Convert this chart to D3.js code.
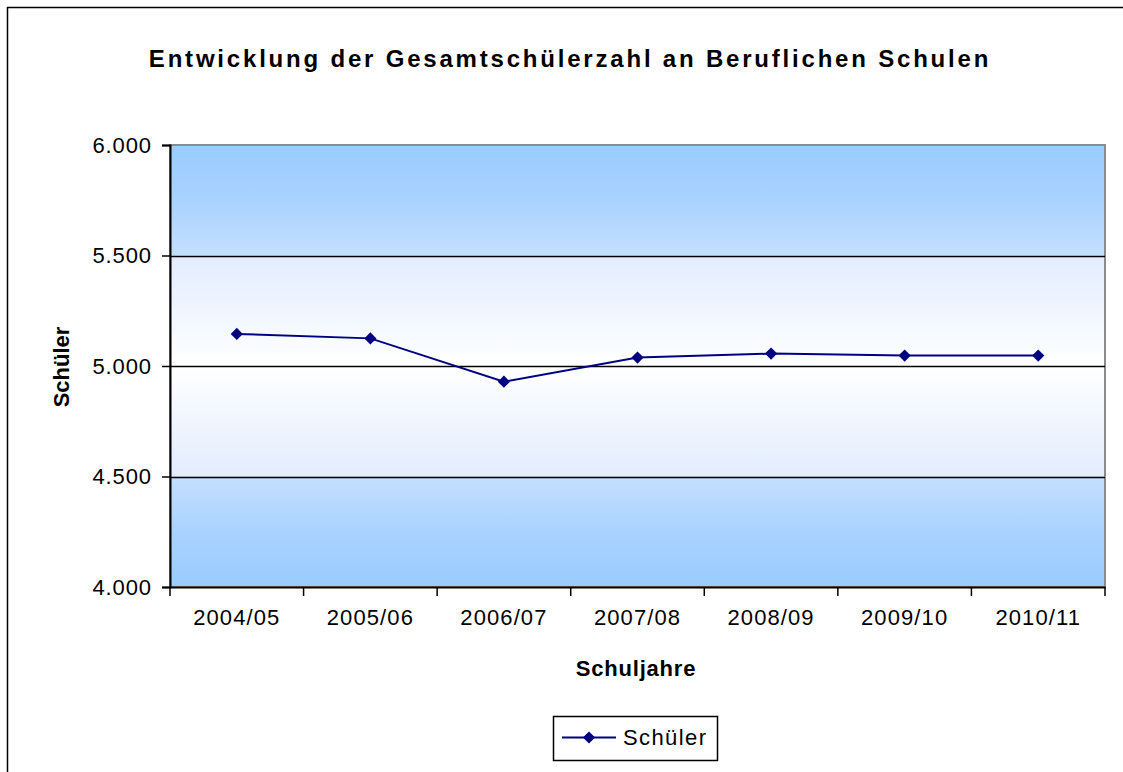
<!DOCTYPE html>
<html>
<head>
<meta charset="utf-8">
<script src="https://cdn.jsdelivr.net/npm/d3@7"></script>
<style>
  html, body { margin: 0; background: #fff; overflow: hidden; }
  svg { display: block; }
  text { font-family: "Liberation Sans", Arial, sans-serif; fill: #000; }
</style>
</head>
<body>
<div id="chart"></div>
<script>
// data
const years = ['2004/05', '2005/06', '2006/07', '2007/08', '2008/09', '2009/10', '2010/11'];
const schueler = [5145, 5125, 4929, 5038, 5056, 5047, 5047];
const yTicks = [4000, 4500, 5000, 5500, 6000];

const W = 1123, H = 772;
const plot = {left: 170, top: 145, right: 1105, bottom: 587};

let svg = d3.select('#chart')
  .append('svg')
    .attr('width', W)
    .attr('height', H);

// outer frame (right / bottom edges run off the picture)
svg.append('rect')
  .attr('x', 7.5).attr('y', 7.5)
  .attr('width', W + 20).attr('height', H + 20)
  .attr('fill', '#fff')
  .attr('stroke', '#000')
  .attr('stroke-width', 1.5);

// background gradient of the plot area
let grad = svg.append('defs').append('linearGradient')
  .attr('id', 'bg')
  .attr('x1', 0).attr('y1', 0).attr('x2', 0).attr('y2', 1);
[[0, '#99ccff'], [0.12, '#a8d2ff'], [0.249, '#c4dfff'], [0.251, '#e2edff'],
 [0.5, '#ffffff'], [0.749, '#e2edff'], [0.751, '#c4dfff'], [0.88, '#a8d2ff'], [1, '#99ccff']]
  .forEach(s => grad.append('stop').attr('offset', s[0]).attr('stop-color', s[1]));

let x = d3.scaleBand()
  .domain(years)
  .range([plot.left, plot.right]);

let y = d3.scaleLinear()
  .domain([4000, 6000])
  .range([plot.bottom, plot.top]);

svg.append('rect')
  .attr('x', plot.left).attr('y', plot.top)
  .attr('width', plot.right - plot.left)
  .attr('height', plot.bottom - plot.top)
  .attr('fill', 'url(#bg)')
  .attr('stroke', '#8c8c8c')
  .attr('stroke-width', 2);

// gridlines
svg.append('g')
  .selectAll('line')
  .data(yTicks.slice(1, -1))
  .enter()
  .append('line')
    .attr('x1', plot.left).attr('x2', plot.right)
    .attr('y1', d => Math.round(y(d)) + 0.5)
    .attr('y2', d => Math.round(y(d)) + 0.5)
    .attr('stroke', '#000')
    .attr('stroke-width', 1.5);

// y axis
let fmt = d => d3.format(',')(d).replace(',', '.');
let yAxis = svg.append('g')
  .attr('transform', `translate(${plot.left},0)`)
  .call(d3.axisLeft(y).tickValues(yTicks).tickSize(8).tickPadding(10).tickFormat(fmt));
yAxis.select('.domain').attr('stroke', '#000').attr('stroke-width', 2);
yAxis.selectAll('.tick line').attr('stroke', '#000').attr('stroke-width', 1.5);
yAxis.selectAll('.tick text')
  .style('font-family', '"Liberation Sans", Arial, sans-serif')
  .style('font-size', '22px')
  .style('letter-spacing', '0.9px')
  .attr('fill', '#000');

// x axis, ticks between categories
let xAxis = svg.append('g')
  .attr('transform', `translate(0,${plot.bottom})`)
  .call(d3.axisBottom(x).tickSize(0).tickPadding(22));
xAxis.select('.domain').attr('stroke', '#000').attr('stroke-width', 2);
xAxis.selectAll('.tick text')
  .style('font-family', '"Liberation Sans", Arial, sans-serif')
  .style('font-size', '22px')
  .style('letter-spacing', '1.1px')
  .attr('fill', '#000');
xAxis.selectAll('.sep')
  .data(years.concat(['end']))
  .enter()
  .append('line')
    .attr('class', 'sep')
    .attr('x1', (d, i) => plot.left + i * x.step())
    .attr('x2', (d, i) => plot.left + i * x.step())
    .attr('y1', 0).attr('y2', 9)
    .attr('stroke', '#000')
    .attr('stroke-width', 1.5);

// series line
let cx = d => x(d) + x.bandwidth() / 2;
let line = d3.line()
  .x((d, i) => cx(years[i]))
  .y(d => y(d));

svg.append('path')
  .attr('d', line(schueler))
  .attr('fill', 'none')
  .attr('stroke', '#000080')
  .attr('stroke-width', 2);

let diamond = d3.symbol().type(d3.symbolDiamond2).size(95);
svg.append('g')
  .selectAll('path')
  .data(schueler)
  .enter()
  .append('path')
    .attr('d', diamond)
    .attr('transform', (d, i) => `translate(${cx(years[i])},${y(d)})`)
    .attr('fill', '#000080');

// titles
svg.append('text')
  .attr('x', 570).attr('y', 67)
  .attr('text-anchor', 'middle')
  .style('font-size', '24px')
  .style('font-weight', 'bold')
  .style('letter-spacing', '2.8px')
  .text('Entwicklung der Gesamtschülerzahl an Beruflichen Schulen');

svg.append('text')
  .attr('x', 636).attr('y', 676)
  .attr('text-anchor', 'middle')
  .style('font-size', '22px')
  .style('font-weight', 'bold')
  .style('letter-spacing', '0.8px')
  .text('Schuljahre');

svg.append('text')
  .attr('transform', 'translate(69,367) rotate(-90)')
  .attr('text-anchor', 'middle')
  .style('font-size', '22px')
  .style('font-weight', 'bold')
  .text('Schüler');

// legend
let legend = svg.append('g').attr('transform', 'translate(553,716)');
legend.append('rect')
  .attr('x', 0.5).attr('y', 0.5)
  .attr('width', 164).attr('height', 44)
  .attr('fill', '#fff')
  .attr('stroke', '#000')
  .attr('stroke-width', 1.5);
legend.append('line')
  .attr('x1', 9).attr('x2', 63)
  .attr('y1', 21.5).attr('y2', 21.5)
  .attr('stroke', '#000080')
  .attr('stroke-width', 2);
legend.append('path')
  .attr('d', diamond)
  .attr('transform', 'translate(36,21.5)')
  .attr('fill', '#000080');
legend.append('text')
  .attr('x', 70).attr('y', 29)
  .style('font-size', '22px')
  .style('letter-spacing', '1.4px')
  .text('Schüler');
</script>
</body>
</html>
